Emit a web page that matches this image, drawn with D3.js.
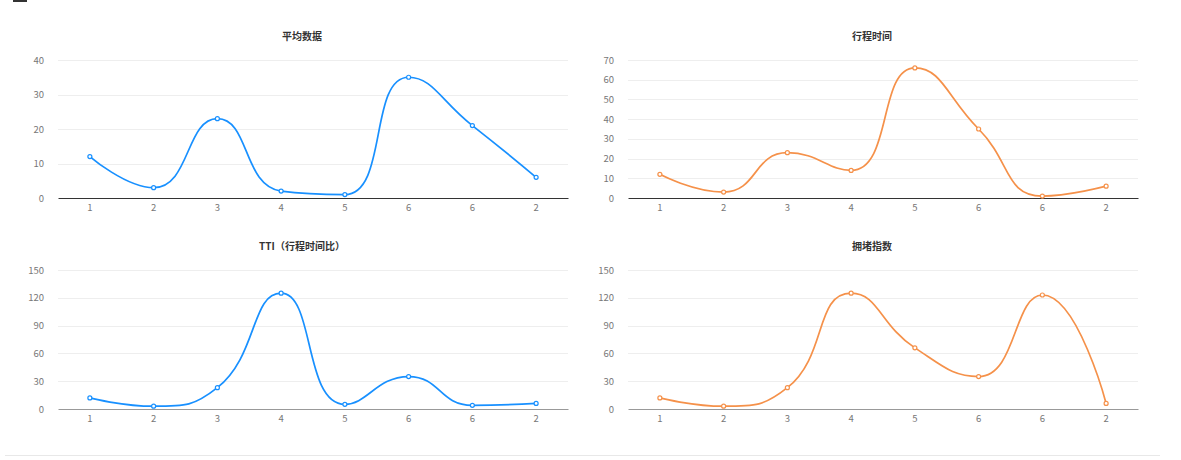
<!DOCTYPE html>
<html>
<head>
<meta charset="utf-8">
<script src="https://cdn.jsdelivr.net/npm/d3@7"></script>
<style>
  html, body { margin: 0; padding: 0; background: #fff; }
  svg { display: block; font-family: "Microsoft YaHei", "Noto Sans CJK SC", sans-serif; }
</style>
</head>
<body>
<svg id="chart" width="1181" height="460"></svg>
<script>
// ---- data ----
const categories = ["1", "2", "3", "4", "5", "6", "6", "2"];
const avgData   = [12, 3, 23, 2, 1, 35, 21, 6];
const travelTime = [12, 3, 23, 14, 66, 35, 1, 6];
const ttiData   = [12, 3, 23, 125, 5, 35, 4, 6];
const congestion = [12, 3, 23, 125, 66, 35, 123, 6];
const titles = ["平均数据", "行程时间", "TTI（行程时间比）", "拥堵指数"];
const yTicksAvg = [0, 10, 20, 30, 40];
const yTicksTravel = [0, 10, 20, 30, 40, 50, 60, 70];
const yTicksTTI = [0, 30, 60, 90, 120, 150];
const yTicksCong = [0, 30, 60, 90, 120, 150];

const BLUE = "#1890ff";
const ORANGE = "#f5914a";

const panels = [
  { title: titles[0], values: avgData,    ticks: yTicksAvg,    color: BLUE,   x0: 58,  x1: 568,  y0: 60,  y1: 198, titleY: 37,  axisColor: "#333" },
  { title: titles[1], values: travelTime, ticks: yTicksTravel, color: ORANGE, x0: 628, x1: 1138, y0: 60,  y1: 198, titleY: 37,  axisColor: "#333" },
  { title: titles[2], values: ttiData,    ticks: yTicksTTI,    color: BLUE,   x0: 58,  x1: 568,  y0: 270, y1: 409, titleY: 247, axisColor: "#999" },
  { title: titles[3], values: congestion, ticks: yTicksCong,   color: ORANGE, x0: 628, x1: 1138, y0: 270, y1: 409, titleY: 247, axisColor: "#999" }
];

const svg = d3.select("#chart");

// cut-off decoration at top-left
svg.append("rect").attr("x", 13).attr("y", 0).attr("width", 14).attr("height", 2).attr("fill", "#333");

// bottom separator
svg.append("line").attr("x1", 5).attr("x2", 1160).attr("y1", 455.5).attr("y2", 455.5)
  .attr("stroke", "#e8e8e8").attr("stroke-width", 1);

// ECharts-like smooth line (smooth = 0.5)
function smoothPath(pts, smooth) {
  const p = d3.path();
  let prevX, prevY, cpx0, cpy0, cpx1, cpy1, nextCpx0, nextCpy0;
  const n = pts.length;
  for (let i = 0; i < n; i++) {
    const [x, y] = pts[i];
    if (i === 0) {
      p.moveTo(x, y);
      cpx0 = x; cpy0 = y;
    } else {
      if (i + 1 >= n) {
        cpx1 = x; cpy1 = y;
      } else {
        const [nextX, nextY] = pts[i + 1];
        let vx = nextX - prevX, vy = nextY - prevY;
        const dx0 = x - prevX, dx1 = nextX - x, dy0 = y - prevY, dy1 = nextY - y;
        const lenPrev = Math.sqrt(dx0 * dx0 + dy0 * dy0);
        const lenNext = Math.sqrt(dx1 * dx1 + dy1 * dy1);
        const ratio = lenNext / (lenNext + lenPrev);
        nextCpx0 = x + vx * smooth * ratio;
        nextCpy0 = y + vy * smooth * ratio;
        nextCpx0 = Math.min(nextCpx0, Math.max(nextX, x));
        nextCpy0 = Math.min(nextCpy0, Math.max(nextY, y));
        nextCpx0 = Math.max(nextCpx0, Math.min(nextX, x));
        nextCpy0 = Math.max(nextCpy0, Math.min(nextY, y));
        vx = nextCpx0 - x; vy = nextCpy0 - y;
        cpx1 = x - vx * lenPrev / lenNext;
        cpy1 = y - vy * lenPrev / lenNext;
        cpx1 = Math.min(cpx1, Math.max(prevX, x));
        cpy1 = Math.min(cpy1, Math.max(prevY, y));
        cpx1 = Math.max(cpx1, Math.min(prevX, x));
        cpy1 = Math.max(cpy1, Math.min(prevY, y));
        vx = x - cpx1; vy = y - cpy1;
        nextCpx0 = x + vx * lenNext / lenPrev;
        nextCpy0 = y + vy * lenNext / lenPrev;
      }
      p.bezierCurveTo(cpx0, cpy0, cpx1, cpy1, x, y);
      cpx0 = nextCpx0; cpy0 = nextCpy0;
    }
    prevX = x; prevY = y;
  }
  return p.toString();
}

panels.forEach(pn => {
  const g = svg.append("g");
  const x = d3.scaleBand().domain(d3.range(categories.length)).range([pn.x0, pn.x1]);
  const y = d3.scaleLinear().domain([0, d3.max(pn.ticks)]).range([pn.y1, pn.y0]);

  // title
  g.append("text")
    .attr("x", (pn.x0 + pn.x1) / 2 - 11)
    .attr("y", pn.titleY)
    .attr("text-anchor", "middle")
    .attr("dominant-baseline", "middle")
    .attr("font-size", 10)
    .attr("font-weight", "bold")
    .attr("fill", "#333")
    .text(pn.title);

  // grid lines
  g.selectAll("line.grid").data(pn.ticks.filter(t => t > 0)).enter().append("line")
    .attr("x1", pn.x0).attr("x2", pn.x1)
    .attr("y1", d => Math.round(y(d)) + 0.5).attr("y2", d => Math.round(y(d)) + 0.5)
    .attr("stroke", "#eeeeee").attr("stroke-width", 1);

  // y axis labels
  const yAxis = d3.axisLeft(y).tickValues(pn.ticks).tickSize(0).tickPadding(14);
  const ya = g.append("g").attr("transform", `translate(${pn.x0},0)`).call(yAxis);
  ya.select(".domain").remove();
  ya.selectAll("text").attr("fill", "#777").attr("font-size", 9.5)
    .attr("font-family", "\"Microsoft YaHei\", \"Noto Sans CJK SC\", sans-serif");

  // x axis
  const xAxis = d3.axisBottom(x).tickSize(0).tickPadding(6).tickFormat(i => categories[i]);
  const xa = g.append("g").attr("transform", `translate(0,${pn.y1})`).call(xAxis);
  xa.select(".domain").attr("stroke", pn.axisColor).attr("stroke-width", 1);
  xa.selectAll("text").attr("fill", "#777").attr("font-size", 9.5)
    .attr("font-family", "\"Microsoft YaHei\", \"Noto Sans CJK SC\", sans-serif");

  const pts = pn.values.map((v, i) => [x(i) + x.bandwidth() / 2, y(v)]);

  g.append("path")
    .attr("d", smoothPath(pts, 0.5))
    .attr("fill", "none")
    .attr("stroke", pn.color)
    .attr("stroke-width", 1.7);

  g.selectAll("circle").data(pts).enter().append("circle")
    .attr("cx", d => d[0]).attr("cy", d => d[1]).attr("r", 2)
    .attr("fill", "#fff").attr("stroke", pn.color).attr("stroke-width", 1.2);
});
</script>
</body>
</html>
